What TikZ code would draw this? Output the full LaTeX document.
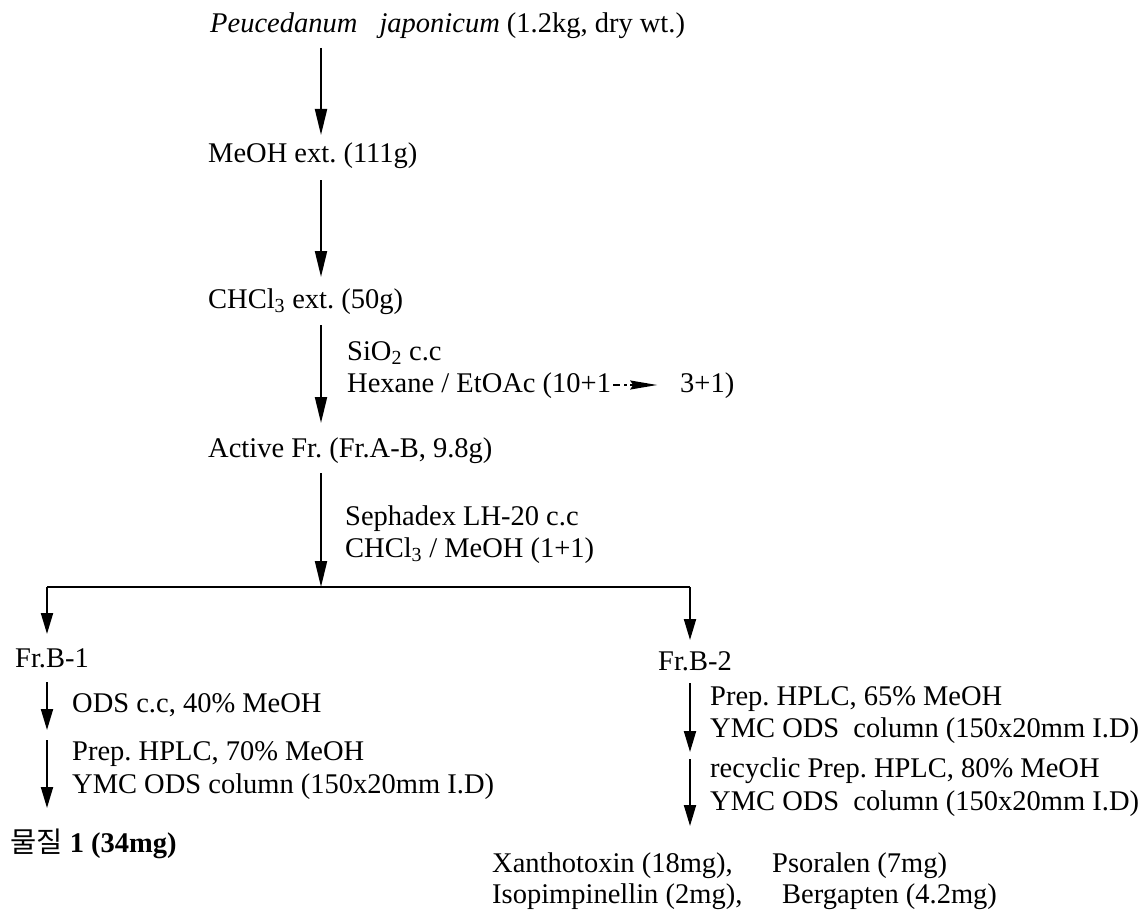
\documentclass[tikz,border=0pt]{standalone}
\usepackage{fontspec}
\setmainfont{Liberation Serif}
\newfontfamily\krfont{Noto Sans CJK KR}
\usetikzlibrary{arrows.meta}
\frenchspacing
\tikzset{
  lbl/.style={anchor=base west, inner sep=0pt, text height=20pt, text depth=6pt,
              font=\fontsize{28.5}{34}\selectfont\frenchspacing},
  arr/.style={line width=2pt, -{Triangle[length=26pt,width=12pt]}},
  sarr/.style={line width=2pt, -{Triangle[length=21pt,width=12pt]}},
  ln/.style={line width=2pt},
  inarr/.style={line width=1.6pt, -{Stealth[length=27pt,width=9pt,inset=3pt]}}
}
\begin{document}
\begin{tikzpicture}[x=1pt,y=-1pt]
\useasboundingbox (0,0) rectangle (1148,915);
% column coordinates
\coordinate (cx) at (321,0);
\coordinate (split) at (321,587);
\coordinate (lft) at (47,587);
\coordinate (rgt) at (690,587);
% main column
\node[lbl] (title) at (210,33) {\textit{Peucedanum}\hspace{15pt} \textit{japonicum} (1.2kg, dry wt.)};
\node[lbl] (meoh) at (208,162) {MeOH ext. (111g)};
\node[lbl] (chcl) at (208,308) {CHCl\textsubscript{3} ext. (50g)};
\node[lbl] (sio) at (347,360) {SiO\textsubscript{2} c.c};
\node[lbl] (hex) at (347,392) {Hexane / EtOAc (10+1};
\node[lbl] (hexend) at (680,392) {3+1)};
\node[lbl] (active) at (208,457) {Active Fr. (Fr.A-B, 9.8g)};
\node[lbl] (seph) at (345,525) {Sephadex LH-20 c.c};
\node[lbl] (chm) at (345,557) {CHCl\textsubscript{3} / MeOH (1+1)};
% left branch
\node[lbl] (frb1) at (15,667) {Fr.B-1};
\node[lbl] (ods) at (72,712) {ODS c.c, 40\% MeOH};
\node[lbl] (hplc1) at (72,760) {Prep. HPLC, 70\% MeOH};
\node[lbl] (ymc1) at (72,793) {YMC ODS column (150x20mm I.D)};
\node[lbl] (comp1) at (10,852) {{\krfont 물질} \textbf{1 (34mg)}};
% right branch
\node[lbl] (frb2) at (658,670) {Fr.B-2};
\node[lbl] (hplc2) at (710,705) {Prep. HPLC, 65\% MeOH};
\node[lbl] (ymc2) at (710,737) {YMC ODS\hspace{7pt} column (150x20mm I.D)};
\node[lbl] (rec) at (710,777) {recyclic Prep. HPLC, 80\% MeOH};
\node[lbl] (ymc3) at (710,810) {YMC ODS\hspace{7pt} column (150x20mm I.D)};
\node[lbl] (xan) at (492,872) {Xanthotoxin (18mg),};
\node[lbl] (pso) at (772,872) {Psoralen (7mg)};
\node[lbl] (iso) at (492,903) {Isopimpinellin (2mg),};
\node[lbl] (berg) at (782,903) {Bergapten (4.2mg)};
% inline arrow in the solvent gradient
\coordinate (ha) at ([xshift=2pt,yshift=7pt]hex.base east);
\draw[line width=1.6pt] (ha) -- ++(7,0);
\draw[line width=1.6pt] ([xshift=11pt]ha) -- ([xshift=14pt]ha);
\draw[inarr] ([xshift=17pt]ha) -- ([xshift=44pt]ha);
% main arrows
\draw[arr] ([yshift=-15pt]title.base -| cx) -- ([yshift=27pt]meoh.base -| cx);
\draw[arr] ([yshift=-18pt]meoh.base -| cx) -- ([yshift=31pt]chcl.base -| cx);
\draw[arr] ([yshift=-17pt]chcl.base -| cx) -- ([yshift=34pt]active.base -| cx);
\draw[arr] ([yshift=-16pt]active.base -| cx) -- (split);
\draw[ln] (lft) -- (rgt);
% branch arrows
\draw[sarr] (lft) -- ([yshift=33pt]frb1.base -| lft);
\draw[sarr] (rgt) -- ([yshift=30pt]frb2.base -| rgt);
\draw[sarr] ([yshift=-15pt]frb1.base -| lft) -- ([yshift=-18pt]ods.base -| lft);
\draw[sarr] ([yshift=-28pt]ods.base -| lft) -- ([yshift=-15pt]ymc1.base -| lft);
\draw[sarr] ([yshift=-13pt]frb2.base -| rgt) -- ([yshift=-15pt]ymc2.base -| rgt);
\draw[sarr] ([yshift=-22pt]ymc2.base -| rgt) -- ([yshift=-16pt]ymc3.base -| rgt);
\end{tikzpicture}
\end{document}
